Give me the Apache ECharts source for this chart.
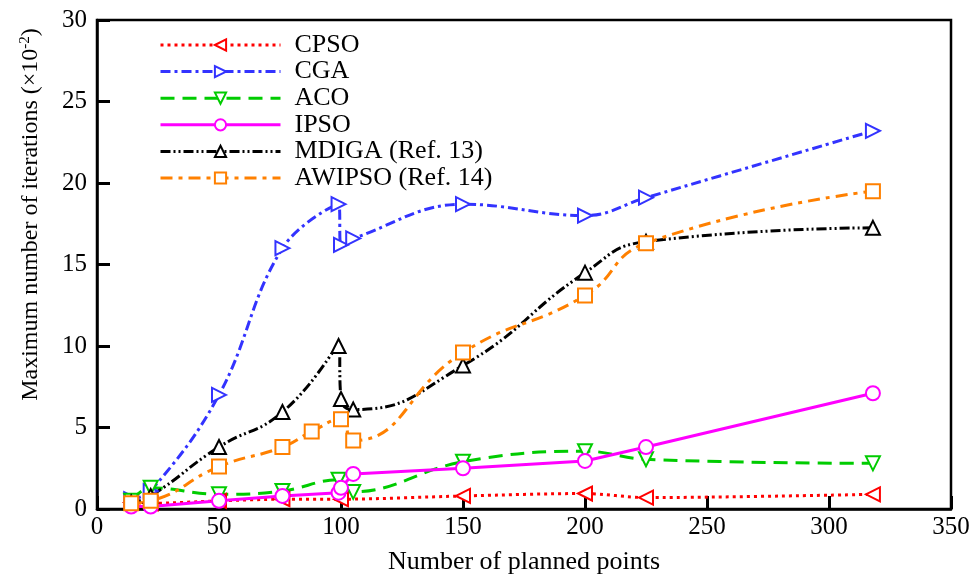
<!DOCTYPE html>
<html>
<head>
<meta charset="utf-8">
<script src="https://cdn.jsdelivr.net/npm/echarts@6/dist/echarts.min.js"></script>
<style>
  html, body { margin: 0; padding: 0; background: #fff; }
  #chart { width: 976px; height: 577px; }
</style>
</head>
<body>
<div id="chart"></div>
<script>
// values, [planned points, iterations x10^-2]
const cpso = [[14, 0.4], [22, 0.35], [50, 0.5], [76, 0.6], [100, 0.6], [150, 0.8], [200, 0.95], [225, 0.7], [318, 0.9]];
const cga = [[14, 0.6], [22, 1.1], [50, 7.0], [76, 16.0], [99, 18.7], [100, 16.2], [105, 16.6], [150, 18.7], [200, 18.0], [225, 19.1], [318, 23.2]];
const aco = [[14, 0.5], [22, 1.3], [50, 0.9], [76, 1.1], [99, 1.8], [105, 1.05], [150, 2.9], [200, 3.55], [225, 3.05], [318, 2.8]];
const ipso = [[14, 0.15], [22, 0.15], [50, 0.5], [76, 0.8], [99, 1.0], [100, 1.3], [105, 2.15], [150, 2.5], [200, 2.95], [225, 3.8], [318, 7.1]];
const mdiga = [[14, 0.4], [22, 0.8], [50, 3.8], [76, 5.95], [99, 10.0], [100, 6.75], [105, 6.1], [150, 8.8], [200, 14.5], [225, 16.4], [318, 17.25]];
const awipso = [[14, 0.35], [22, 0.5], [50, 2.6], [76, 3.8], [88, 4.75], [100, 5.5], [105, 4.2], [150, 9.6], [200, 13.1], [225, 16.3], [318, 19.5]];

const font = "Liberation Serif";

function line(name, data, color, type, symbol, rotate, smooth) {
  return {
    name: name,
    type: "line",
    data: data,
    smooth: smooth,
    symbol: symbol,
    symbolSize: 14,
    symbolRotate: rotate,
    lineStyle: { color: color, width: 3, type: type },
    itemStyle: { color: "#fff", borderColor: color, borderWidth: 2 },
    z: 3,
  };
}

const chart = echarts.init(document.getElementById("chart"));
chart.setOption({
  animation: false,
  grid: {
    left: 97, right: 25, top: 20, bottom: 68,
    outerBoundsMode: "none",
    show: true, borderColor: "#000", borderWidth: 2.5,
  },
  legend: {
    orient: "vertical",
    left: 154, top: 27,
    itemWidth: 120, itemHeight: 14, itemGap: 0.6,
    lineStyle: { width: 3 },
    textStyle: { fontFamily: font, fontSize: 26, color: "#000", padding: [0, 0, 0, 9] },
    data: ["CPSO", "CGA", "ACO", "IPSO", "MDIGA (Ref. 13)", "AWIPSO (Ref. 14)"],
  },
  xAxis: {
    type: "value", min: 0, max: 350, interval: 50,
    name: "Number of planned points",
    nameLocation: "middle", nameGap: 40,
    nameTextStyle: { fontFamily: font, fontSize: 26, color: "#000" },
    axisLine: { lineStyle: { color: "#000", width: 2.5 } },
    axisTick: { inside: true, length: 13, lineStyle: { color: "#000", width: 3 } },
    axisLabel: { fontFamily: font, fontSize: 25, color: "#000", margin: 6 },
    splitLine: { show: false },
  },
  yAxis: {
    type: "value", min: 0, max: 30, interval: 5,
    name: "Maximum number of iterations (×10{sup|-2})",
    nameLocation: "middle", nameGap: 54,
    nameTextStyle: {
      fontFamily: font, fontSize: 24, color: "#000", padding: [0, 0, 0, 100],
      rich: { sup: { fontFamily: font, fontSize: 15, color: "#000", verticalAlign: "top", padding: [0, 0, 10, 0] } },
    },
    axisLine: { lineStyle: { color: "#000", width: 2.5 } },
    axisTick: { inside: true, length: 13, lineStyle: { color: "#000", width: 3 } },
    axisLabel: { fontFamily: font, fontSize: 25, color: "#000", margin: 10 },
    splitLine: { show: false },
  },
  series: [
    line("CPSO", cpso, "#ff0000", [3, 4], "triangle", 90, 0.3),
    line("CGA", cga, "#3333ff", [10, 4, 3, 4], "triangle", -90, 0.4),
    line("ACO", aco, "#00cc00", [14, 8], "triangle", 180, 0.4),
    line("IPSO", ipso, "#ff00ff", "solid", "circle", 0, false),
    line("MDIGA (Ref. 13)", mdiga, "#000000", [10, 3, 2, 3, 2, 3], "triangle", 0, 0.5),
    line("AWIPSO (Ref. 14)", awipso, "#ff8000", [12, 6, 4, 6], "rect", 0, 0.5),
  ],
});
</script>
</body>
</html>
